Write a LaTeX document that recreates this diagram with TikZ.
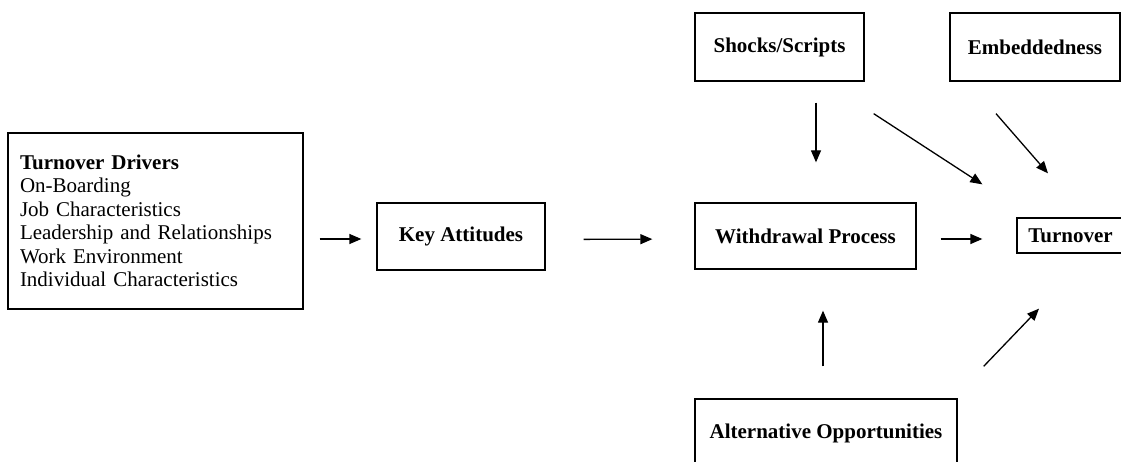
\documentclass[tikz,border=0pt]{standalone}
\usepackage{fontspec}
\setmainfont{Liberation Serif}
\usetikzlibrary{arrows.meta}
\begin{document}
\begin{tikzpicture}[x=1pt,y=-1pt,
  box/.style={draw, line width=1.3pt, inner sep=0pt, align=center, font=\fontsize{21}{23.5}\selectfont\bfseries},
  arr/.style={line width=1.3pt, -{Triangle[length=12pt,width=10pt]}}]
\useasboundingbox (0,0) rectangle (1121,462);
\node[box, minimum width=295, minimum height=176, text width=271, inner xsep=12, align=left, font=\fontsize{21}{23.5}\selectfont] (drivers) at (155.5,221)
  {\textbf{Turnover Drivers}\\On-Boarding\\Job Characteristics\\Leadership and Relationships\\Work Environment\\Individual Characteristics};
\node[box, minimum width=168, minimum height=67] (key) at (461,236.5) {Key Attitudes};
\node[box, minimum width=221, minimum height=66] (with) at (805.5,236) {Withdrawal Process};
\node[box, minimum width=107, minimum height=35] (turn) at (1070.5,235.5) {Turnover};
\node[box, minimum width=169, minimum height=68] (shocks) at (779.5,47) {Shocks/Scripts};
\node[box, minimum width=170, minimum height=68] (embed) at (1035,47) {Embeddedness};
\node[box, minimum width=262, minimum height=68] (alt) at (826,433) {Alternative Opportunities};
\draw[arr, shorten <=16pt, shorten >=15pt] ([yshift=-18]drivers.east) -- ([yshift=-2.5]key.west);
\draw[arr, shorten <=38pt, shorten >=42pt] ([yshift=-3]key.east) -- ([yshift=-3]with.west);
\draw[arr, shorten <=24pt, shorten >=34pt] ([yshift=-3]with.east) -- ([yshift=-3.5]turn.west);
\draw[arr, shorten <=21pt, shorten >=40pt] ([xshift=36.5]shocks.south) -- ([xshift=10.5]with.north);
\draw[arr] ([shift={(9,32)}]shocks.south east) -- ([shift={(-34,-33)}]turn.north west);
\draw[arr] ([shift={(-39,32)}]embed.south) -- ([shift={(-22.5,-44)}]turn.north);
\draw[arr] ([shift={(-3,-32)}]alt.north) -- ([shift={(17.5,41)}]with.south);
\draw[arr] ([shift={(26,-32)}]alt.north east) -- ([shift={(-31.5,55)}]turn.south);
\end{tikzpicture}
\end{document}
